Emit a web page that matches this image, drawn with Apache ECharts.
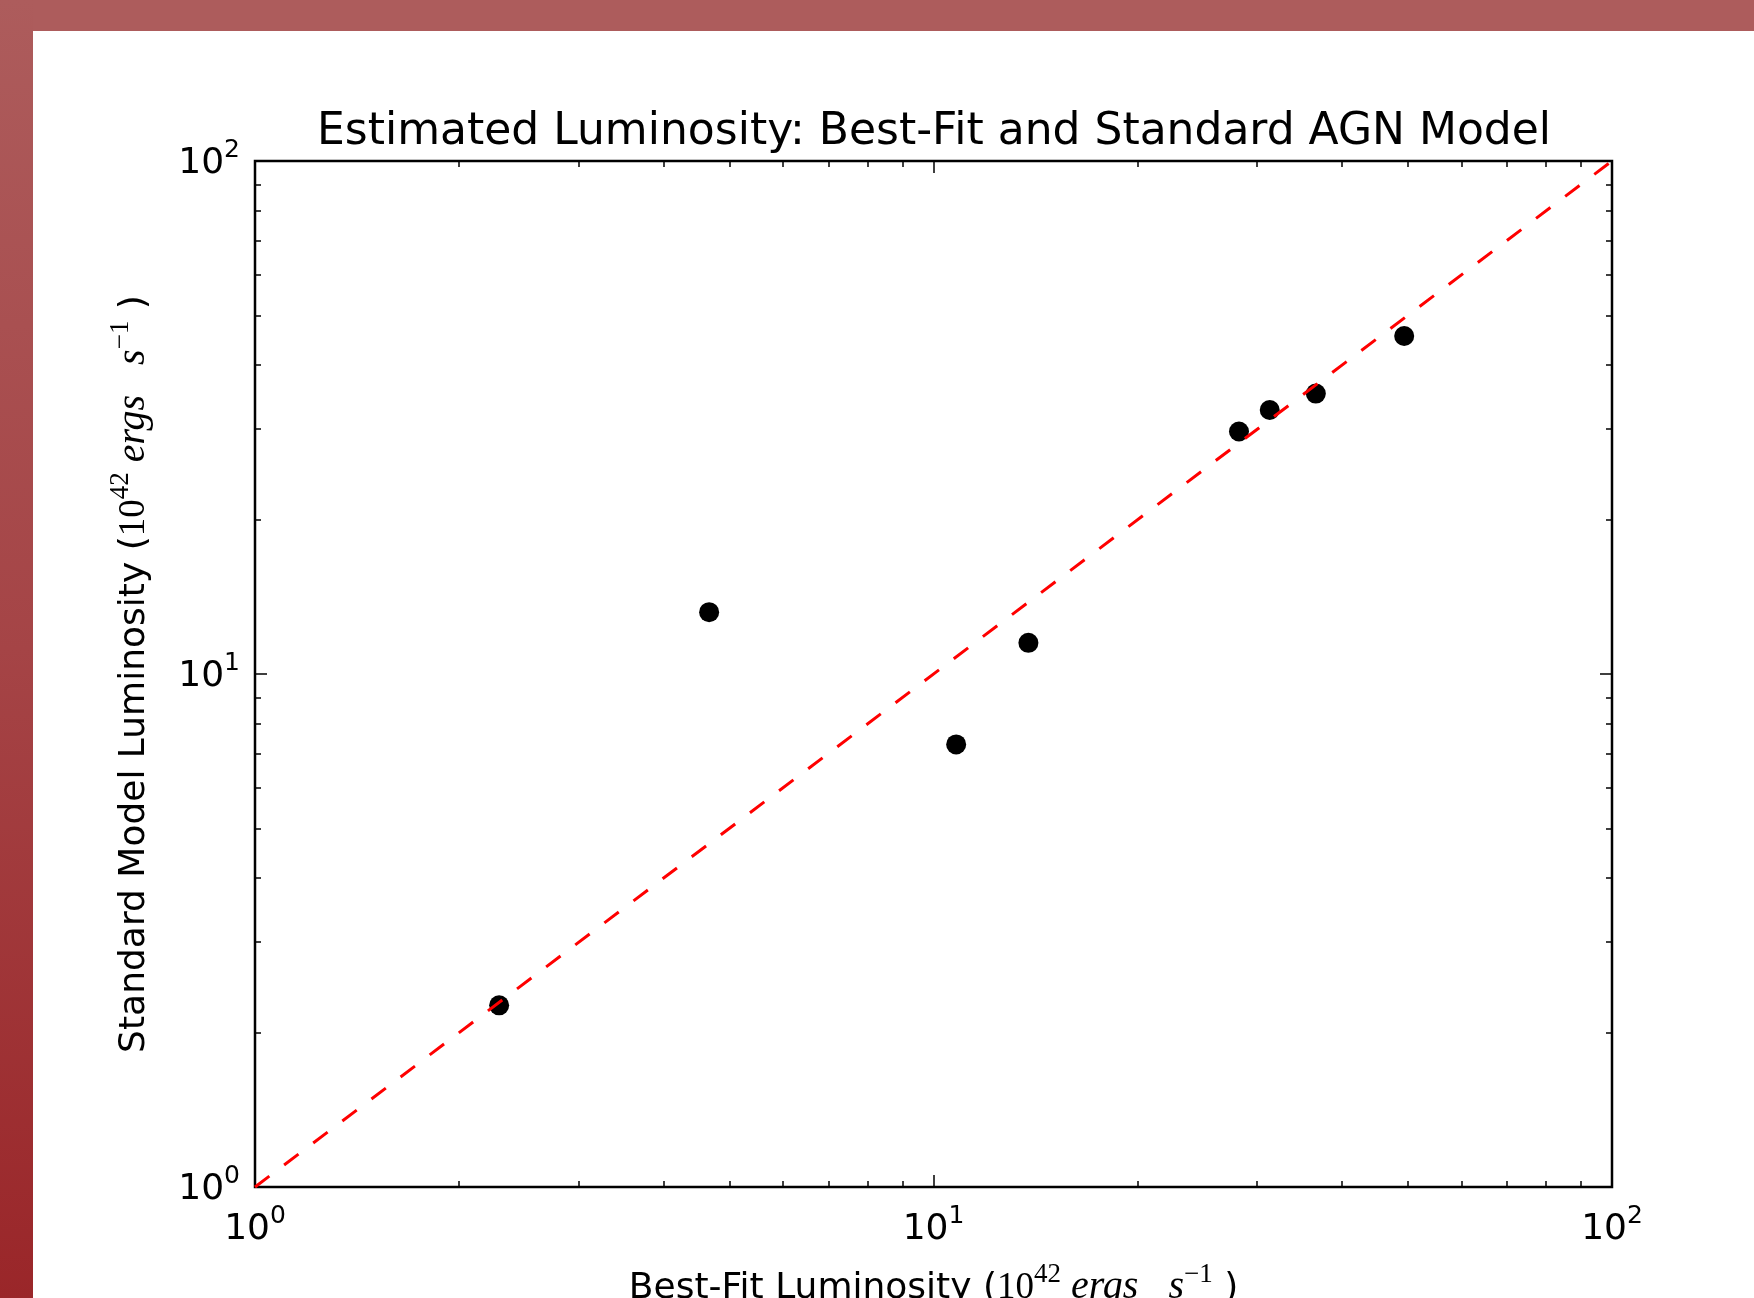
<!DOCTYPE html>
<html lang="en">
<head>
<meta charset="utf-8">
<script src="https://cdn.jsdelivr.net/npm/echarts@6/dist/echarts.min.js"></script>
<style>
    html, body { margin: 0; padding: 0; background: #fff; }
    #chart { position: absolute; left: 0; top: 0; width: 1754px; height: 1298px; }
    /* slide frame */
    #bandTop { position: absolute; left: 0; top: 0; width: 1754px; height: 31px; background: #ad5c5c; }
    #bandLeft { position: absolute; left: 0; top: 0; width: 33px; height: 1298px;
        background: linear-gradient(to bottom, #ad5c5c 0%, #a54446 50%, #9a2629 100%); }
</style>
</head>
<body>
<div id="chart"></div>
<div id="bandTop"></div>
<div id="bandLeft"></div>
<script>
    // data
    var bestFit = [2.29, 4.67, 10.8, 13.8, 28.2, 31.3, 36.6, 49.4];
    var standard = [2.26, 13.2, 7.29, 11.5, 29.7, 32.7, 35.2, 45.6];
    var refLineX = [1, 100];
    var refLineY = [1, 100];
    var majorTicks = [1, 10, 100];
    var minorTicks = [2, 3, 4, 5, 6, 7, 8, 9, 20, 30, 40, 50, 60, 70, 80, 90];

    var FONT = 'DejaVu Sans';
    var SERIF = 'Liberation Serif';

    var points = [];
    for (var i = 0; i < bestFit.length; i++) {
        points.push([bestFit[i], standard[i]]);
    }
    var linePts = [];
    for (var j = 0; j < refLineX.length; j++) {
        linePts.push([refLineX[j], refLineY[j]]);
    }

    // tick labels as 10^n
    var tickRich = {
        b: { fontFamily: FONT, fontSize: 36, color: '#000', verticalAlign: 'bottom', padding: [8, 0, 0, 0] },
        s: { fontFamily: FONT, fontSize: 25, color: '#000', verticalAlign: 'top' }
    };
    function powLabel(value) {
        var e = Math.round(Math.log(value) / Math.LN10);
        return '{b|10}{s|' + e + '}';
    }

    var nameRich = {
        n: { fontFamily: FONT, fontSize: 36, color: '#000', verticalAlign: 'bottom', padding: [6, 0, 0, 0] },
        m: { fontFamily: SERIF, fontSize: 37, color: '#000', verticalAlign: 'bottom', padding: [6, 0, 0, 0] },
        mi: { fontFamily: SERIF, fontSize: 40, fontStyle: 'italic', color: '#000', verticalAlign: 'bottom', padding: [6, 0, 0, 0] },
        ms: { fontFamily: SERIF, fontSize: 27, color: '#000', verticalAlign: 'top' }
    };
    var unitText = '{m|10}{ms|42}{mi| ergs   s}{ms|\u22121}{n| )}';

    function logAxis(pos, ticks, len, extra) {
        var ax = {
            type: 'log',
            logBase: 10,
            min: 1,
            max: 100,
            position: pos,
            axisLine: { show: false },
            splitLine: { show: false },
            axisTick: {
                show: true,
                inside: true,
                length: len,
                customValues: ticks,
                lineStyle: { color: '#000', width: 1.5 }
            },
            axisLabel: { show: false }
        };
        if (extra) {
            for (var k in extra) ax[k] = extra[k];
        }
        return ax;
    }

    var chart = echarts.init(document.getElementById('chart'));

    var option = {
        animation: false,
        title: {
            text: 'Estimated Luminosity: Best-Fit and Standard AGN Model',
            left: 934,
            top: 111,
            textAlign: 'center',
            padding: 0,
            textStyle: { fontFamily: FONT, fontSize: 44, fontWeight: 'normal', color: '#000' }
        },
        grid: {
            left: 255,
            top: 161,
            width: 1357,
            height: 1026,
            show: true,
            borderColor: '#000',
            borderWidth: 2.5,
            backgroundColor: 'transparent',
            outerBoundsMode: 'none'
        },
        xAxis: [
            logAxis('bottom', majorTicks, 12, {
                axisLabel: {
                    show: true,
                    margin: 17,
                    customValues: majorTicks,
                    formatter: powLabel,
                    rich: tickRich
                },
                name: '{n|Best-Fit Luminosity (}' + unitText,
                nameLocation: 'middle',
                nameGap: 74,
                nameTextStyle: { fontFamily: FONT, fontSize: 36, color: '#000', rich: nameRich }
            }),
            logAxis('bottom', minorTicks, 6),
            logAxis('top', majorTicks, 12),
            logAxis('top', minorTicks, 6)
        ],
        yAxis: [
            logAxis('left', majorTicks, 12, {
                axisLabel: {
                    show: true,
                    margin: 15,
                    padding: [0, 0, 3, 0],
                    customValues: majorTicks,
                    formatter: powLabel,
                    rich: tickRich
                },
                name: '{n|Standard Model Luminosity (}' + unitText,
                nameLocation: 'middle',
                nameRotate: 90,
                nameGap: 102,
                nameTextStyle: { fontFamily: FONT, fontSize: 36, color: '#000', rich: nameRich }
            }),
            logAxis('left', minorTicks, 6),
            logAxis('right', majorTicks, 12),
            logAxis('right', minorTicks, 6)
        ],
        series: [
            {
                name: 'AGN',
                type: 'scatter',
                xAxisIndex: 0,
                yAxisIndex: 0,
                symbol: 'circle',
                symbolSize: 20,
                itemStyle: { color: '#000', opacity: 1 },
                data: points
            },
            {
                name: 'one-to-one',
                type: 'line',
                xAxisIndex: 0,
                yAxisIndex: 0,
                symbol: 'none',
                silent: true,
                lineStyle: { color: '#ff0000', width: 3, type: [18, 18.5], cap: 'butt' },
                data: linePts
            }
        ]
    };

    chart.setOption(option);
</script>
</body>
</html>
